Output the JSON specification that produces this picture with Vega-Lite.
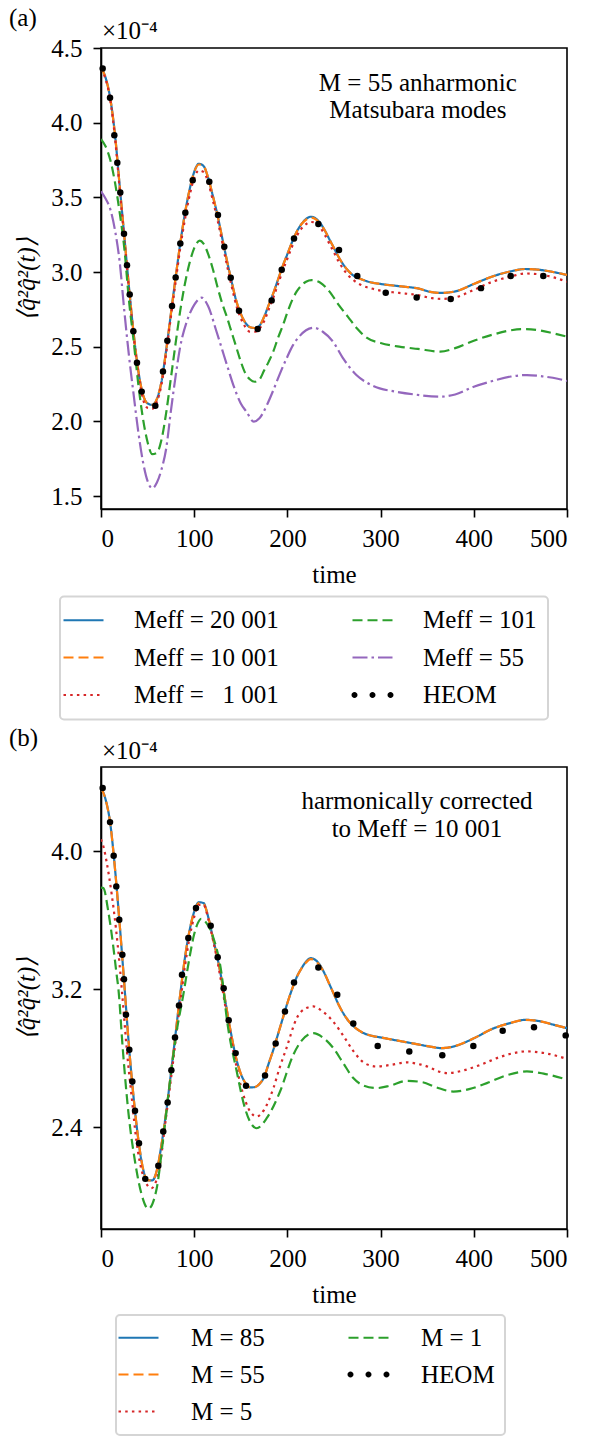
{
  "$schema": "https://vega.github.io/schema/vega-lite/v6.json",
  "padding": {"left": 8, "top": 5, "right": 0, "bottom": 0},
  "config": {
    "font": "Liberation Serif",
    "view": {"stroke": "black", "strokeWidth": 1.6},
    "axis": {"grid": false, "domainColor": "black", "domainWidth": 1.6, "tickColor": "black", "tickWidth": 1.6, "tickSize": 8,
      "labelFont": "Liberation Serif", "labelFontSize": 25, "labelColor": "black", "titleFont": "Liberation Serif", "titleFontSize": 25, "titleFontWeight": "normal", "titleColor": "black"},
    "title": {"font": "Liberation Serif", "fontSize": 25, "fontWeight": "normal", "color": "black"}
  },
  "resolve": {"scale": {"color": "independent", "strokeDash": "independent", "x": "independent", "y": "independent"}, "legend": {"color": "independent", "strokeDash": "independent"}},
  "datasets": {
    "a_curves": [
      {"s":"Meff = 20 001","t":0,"v":4.37},{"s":"Meff = 20 001","t":5,"v":4.30},{"s":"Meff = 20 001","t":10,"v":4.16},{"s":"Meff = 20 001","t":15,"v":3.92},{"s":"Meff = 20 001","t":20,"v":3.58},{"s":"Meff = 20 001","t":25,"v":3.24},{"s":"Meff = 20 001","t":30,"v":2.90},{"s":"Meff = 20 001","t":35,"v":2.59},{"s":"Meff = 20 001","t":40,"v":2.34},{"s":"Meff = 20 001","t":45,"v":2.18},{"s":"Meff = 20 001","t":50,"v":2.12},{"s":"Meff = 20 001","t":55,"v":2.11},{"s":"Meff = 20 001","t":60,"v":2.15},{"s":"Meff = 20 001","t":65,"v":2.27},{"s":"Meff = 20 001","t":70,"v":2.48},{"s":"Meff = 20 001","t":75,"v":2.72},{"s":"Meff = 20 001","t":80,"v":2.96},{"s":"Meff = 20 001","t":85,"v":3.19},{"s":"Meff = 20 001","t":90,"v":3.39},{"s":"Meff = 20 001","t":95,"v":3.55},{"s":"Meff = 20 001","t":100,"v":3.67},{"s":"Meff = 20 001","t":105,"v":3.725},{"s":"Meff = 20 001","t":110,"v":3.71},{"s":"Meff = 20 001","t":115,"v":3.63},{"s":"Meff = 20 001","t":120,"v":3.51},{"s":"Meff = 20 001","t":125,"v":3.38},{"s":"Meff = 20 001","t":130,"v":3.23},{"s":"Meff = 20 001","t":135,"v":3.08},{"s":"Meff = 20 001","t":140,"v":2.94},{"s":"Meff = 20 001","t":145,"v":2.81},{"s":"Meff = 20 001","t":150,"v":2.72},{"s":"Meff = 20 001","t":155,"v":2.66},{"s":"Meff = 20 001","t":160,"v":2.63},{"s":"Meff = 20 001","t":165,"v":2.625},{"s":"Meff = 20 001","t":170,"v":2.64},{"s":"Meff = 20 001","t":175,"v":2.70},{"s":"Meff = 20 001","t":180,"v":2.78},{"s":"Meff = 20 001","t":185,"v":2.86},{"s":"Meff = 20 001","t":190,"v":2.95},{"s":"Meff = 20 001","t":195,"v":3.04},{"s":"Meff = 20 001","t":200,"v":3.12},{"s":"Meff = 20 001","t":205,"v":3.20},{"s":"Meff = 20 001","t":210,"v":3.27},{"s":"Meff = 20 001","t":215,"v":3.32},{"s":"Meff = 20 001","t":220,"v":3.355},{"s":"Meff = 20 001","t":225,"v":3.37},{"s":"Meff = 20 001","t":230,"v":3.36},{"s":"Meff = 20 001","t":235,"v":3.33},{"s":"Meff = 20 001","t":240,"v":3.28},{"s":"Meff = 20 001","t":245,"v":3.22},{"s":"Meff = 20 001","t":250,"v":3.16},{"s":"Meff = 20 001","t":255,"v":3.10},{"s":"Meff = 20 001","t":260,"v":3.05},{"s":"Meff = 20 001","t":265,"v":3.01},{"s":"Meff = 20 001","t":270,"v":2.98},{"s":"Meff = 20 001","t":280,"v":2.95},{"s":"Meff = 20 001","t":290,"v":2.93},{"s":"Meff = 20 001","t":300,"v":2.92},{"s":"Meff = 20 001","t":320,"v":2.905},{"s":"Meff = 20 001","t":340,"v":2.89},{"s":"Meff = 20 001","t":355,"v":2.865},{"s":"Meff = 20 001","t":365,"v":2.86},{"s":"Meff = 20 001","t":380,"v":2.87},{"s":"Meff = 20 001","t":400,"v":2.92},{"s":"Meff = 20 001","t":420,"v":2.97},{"s":"Meff = 20 001","t":440,"v":3.005},{"s":"Meff = 20 001","t":455,"v":3.02},{"s":"Meff = 20 001","t":470,"v":3.015},{"s":"Meff = 20 001","t":485,"v":3.0},{"s":"Meff = 20 001","t":500,"v":2.98},
      {"s":"Meff = 10 001","t":0,"v":4.37},{"s":"Meff = 10 001","t":5,"v":4.30},{"s":"Meff = 10 001","t":10,"v":4.16},{"s":"Meff = 10 001","t":15,"v":3.92},{"s":"Meff = 10 001","t":20,"v":3.58},{"s":"Meff = 10 001","t":25,"v":3.24},{"s":"Meff = 10 001","t":30,"v":2.90},{"s":"Meff = 10 001","t":35,"v":2.59},{"s":"Meff = 10 001","t":40,"v":2.34},{"s":"Meff = 10 001","t":45,"v":2.18},{"s":"Meff = 10 001","t":50,"v":2.12},{"s":"Meff = 10 001","t":55,"v":2.11},{"s":"Meff = 10 001","t":60,"v":2.15},{"s":"Meff = 10 001","t":65,"v":2.27},{"s":"Meff = 10 001","t":70,"v":2.48},{"s":"Meff = 10 001","t":75,"v":2.72},{"s":"Meff = 10 001","t":80,"v":2.96},{"s":"Meff = 10 001","t":85,"v":3.19},{"s":"Meff = 10 001","t":90,"v":3.39},{"s":"Meff = 10 001","t":95,"v":3.55},{"s":"Meff = 10 001","t":100,"v":3.67},{"s":"Meff = 10 001","t":105,"v":3.72},{"s":"Meff = 10 001","t":110,"v":3.71},{"s":"Meff = 10 001","t":115,"v":3.63},{"s":"Meff = 10 001","t":120,"v":3.51},{"s":"Meff = 10 001","t":125,"v":3.38},{"s":"Meff = 10 001","t":130,"v":3.23},{"s":"Meff = 10 001","t":135,"v":3.08},{"s":"Meff = 10 001","t":140,"v":2.94},{"s":"Meff = 10 001","t":145,"v":2.81},{"s":"Meff = 10 001","t":150,"v":2.72},{"s":"Meff = 10 001","t":155,"v":2.66},{"s":"Meff = 10 001","t":160,"v":2.63},{"s":"Meff = 10 001","t":165,"v":2.625},{"s":"Meff = 10 001","t":170,"v":2.64},{"s":"Meff = 10 001","t":175,"v":2.70},{"s":"Meff = 10 001","t":180,"v":2.78},{"s":"Meff = 10 001","t":185,"v":2.86},{"s":"Meff = 10 001","t":190,"v":2.95},{"s":"Meff = 10 001","t":195,"v":3.04},{"s":"Meff = 10 001","t":200,"v":3.12},{"s":"Meff = 10 001","t":205,"v":3.20},{"s":"Meff = 10 001","t":210,"v":3.27},{"s":"Meff = 10 001","t":215,"v":3.32},{"s":"Meff = 10 001","t":220,"v":3.35},{"s":"Meff = 10 001","t":225,"v":3.365},{"s":"Meff = 10 001","t":230,"v":3.355},{"s":"Meff = 10 001","t":235,"v":3.325},{"s":"Meff = 10 001","t":240,"v":3.28},{"s":"Meff = 10 001","t":245,"v":3.22},{"s":"Meff = 10 001","t":250,"v":3.16},{"s":"Meff = 10 001","t":255,"v":3.10},{"s":"Meff = 10 001","t":260,"v":3.05},{"s":"Meff = 10 001","t":265,"v":3.01},{"s":"Meff = 10 001","t":270,"v":2.98},{"s":"Meff = 10 001","t":280,"v":2.95},{"s":"Meff = 10 001","t":290,"v":2.93},{"s":"Meff = 10 001","t":300,"v":2.92},{"s":"Meff = 10 001","t":320,"v":2.905},{"s":"Meff = 10 001","t":340,"v":2.89},{"s":"Meff = 10 001","t":355,"v":2.865},{"s":"Meff = 10 001","t":365,"v":2.86},{"s":"Meff = 10 001","t":380,"v":2.87},{"s":"Meff = 10 001","t":400,"v":2.92},{"s":"Meff = 10 001","t":420,"v":2.97},{"s":"Meff = 10 001","t":440,"v":3.005},{"s":"Meff = 10 001","t":455,"v":3.02},{"s":"Meff = 10 001","t":470,"v":3.015},{"s":"Meff = 10 001","t":485,"v":3.0},{"s":"Meff = 10 001","t":500,"v":2.98},
      {"s":"Meff = \u20071 001","t":0,"v":4.36},{"s":"Meff = \u20071 001","t":5,"v":4.29},{"s":"Meff = \u20071 001","t":10,"v":4.15},{"s":"Meff = \u20071 001","t":15,"v":3.90},{"s":"Meff = \u20071 001","t":20,"v":3.56},{"s":"Meff = \u20071 001","t":25,"v":3.22},{"s":"Meff = \u20071 001","t":30,"v":2.88},{"s":"Meff = \u20071 001","t":35,"v":2.57},{"s":"Meff = \u20071 001","t":40,"v":2.32},{"s":"Meff = \u20071 001","t":45,"v":2.15},{"s":"Meff = \u20071 001","t":50,"v":2.09},{"s":"Meff = \u20071 001","t":55,"v":2.085},{"s":"Meff = \u20071 001","t":60,"v":2.13},{"s":"Meff = \u20071 001","t":65,"v":2.25},{"s":"Meff = \u20071 001","t":70,"v":2.46},{"s":"Meff = \u20071 001","t":75,"v":2.70},{"s":"Meff = \u20071 001","t":80,"v":2.93},{"s":"Meff = \u20071 001","t":85,"v":3.16},{"s":"Meff = \u20071 001","t":90,"v":3.35},{"s":"Meff = \u20071 001","t":95,"v":3.51},{"s":"Meff = \u20071 001","t":100,"v":3.63},{"s":"Meff = \u20071 001","t":105,"v":3.68},{"s":"Meff = \u20071 001","t":110,"v":3.67},{"s":"Meff = \u20071 001","t":115,"v":3.60},{"s":"Meff = \u20071 001","t":120,"v":3.48},{"s":"Meff = \u20071 001","t":125,"v":3.35},{"s":"Meff = \u20071 001","t":130,"v":3.20},{"s":"Meff = \u20071 001","t":135,"v":3.05},{"s":"Meff = \u20071 001","t":140,"v":2.91},{"s":"Meff = \u20071 001","t":145,"v":2.78},{"s":"Meff = \u20071 001","t":150,"v":2.69},{"s":"Meff = \u20071 001","t":155,"v":2.63},{"s":"Meff = \u20071 001","t":160,"v":2.60},{"s":"Meff = \u20071 001","t":165,"v":2.60},{"s":"Meff = \u20071 001","t":170,"v":2.62},{"s":"Meff = \u20071 001","t":175,"v":2.67},{"s":"Meff = \u20071 001","t":180,"v":2.75},{"s":"Meff = \u20071 001","t":185,"v":2.83},{"s":"Meff = \u20071 001","t":190,"v":2.92},{"s":"Meff = \u20071 001","t":195,"v":3.01},{"s":"Meff = \u20071 001","t":200,"v":3.09},{"s":"Meff = \u20071 001","t":205,"v":3.17},{"s":"Meff = \u20071 001","t":210,"v":3.24},{"s":"Meff = \u20071 001","t":215,"v":3.29},{"s":"Meff = \u20071 001","t":220,"v":3.32},{"s":"Meff = \u20071 001","t":225,"v":3.335},{"s":"Meff = \u20071 001","t":230,"v":3.33},{"s":"Meff = \u20071 001","t":235,"v":3.30},{"s":"Meff = \u20071 001","t":240,"v":3.25},{"s":"Meff = \u20071 001","t":245,"v":3.19},{"s":"Meff = \u20071 001","t":250,"v":3.13},{"s":"Meff = \u20071 001","t":255,"v":3.07},{"s":"Meff = \u20071 001","t":260,"v":3.02},{"s":"Meff = \u20071 001","t":265,"v":2.98},{"s":"Meff = \u20071 001","t":270,"v":2.95},{"s":"Meff = \u20071 001","t":280,"v":2.91},{"s":"Meff = \u20071 001","t":290,"v":2.89},{"s":"Meff = \u20071 001","t":300,"v":2.875},{"s":"Meff = \u20071 001","t":320,"v":2.86},{"s":"Meff = \u20071 001","t":340,"v":2.845},{"s":"Meff = \u20071 001","t":355,"v":2.825},{"s":"Meff = \u20071 001","t":365,"v":2.82},{"s":"Meff = \u20071 001","t":380,"v":2.83},{"s":"Meff = \u20071 001","t":400,"v":2.88},{"s":"Meff = \u20071 001","t":420,"v":2.935},{"s":"Meff = \u20071 001","t":440,"v":2.97},{"s":"Meff = \u20071 001","t":455,"v":2.99},{"s":"Meff = \u20071 001","t":470,"v":2.985},{"s":"Meff = \u20071 001","t":485,"v":2.965},{"s":"Meff = \u20071 001","t":500,"v":2.935},
      {"s":"Meff = 101","t":0,"v":3.89},{"s":"Meff = 101","t":5,"v":3.84},{"s":"Meff = 101","t":10,"v":3.75},{"s":"Meff = 101","t":15,"v":3.60},{"s":"Meff = 101","t":20,"v":3.40},{"s":"Meff = 101","t":25,"v":3.16},{"s":"Meff = 101","t":30,"v":2.81},{"s":"Meff = 101","t":35,"v":2.54},{"s":"Meff = 101","t":40,"v":2.25},{"s":"Meff = 101","t":45,"v":2.02},{"s":"Meff = 101","t":50,"v":1.86},{"s":"Meff = 101","t":55,"v":1.78},{"s":"Meff = 101","t":60,"v":1.79},{"s":"Meff = 101","t":65,"v":1.88},{"s":"Meff = 101","t":70,"v":2.06},{"s":"Meff = 101","t":75,"v":2.29},{"s":"Meff = 101","t":80,"v":2.52},{"s":"Meff = 101","t":85,"v":2.74},{"s":"Meff = 101","t":90,"v":2.92},{"s":"Meff = 101","t":95,"v":3.06},{"s":"Meff = 101","t":100,"v":3.16},{"s":"Meff = 101","t":106,"v":3.21},{"s":"Meff = 101","t":110,"v":3.19},{"s":"Meff = 101","t":115,"v":3.12},{"s":"Meff = 101","t":120,"v":3.02},{"s":"Meff = 101","t":125,"v":2.90},{"s":"Meff = 101","t":130,"v":2.79},{"s":"Meff = 101","t":135,"v":2.70},{"s":"Meff = 101","t":140,"v":2.60},{"s":"Meff = 101","t":145,"v":2.50},{"s":"Meff = 101","t":150,"v":2.40},{"s":"Meff = 101","t":155,"v":2.32},{"s":"Meff = 101","t":160,"v":2.28},{"s":"Meff = 101","t":165,"v":2.265},{"s":"Meff = 101","t":170,"v":2.28},{"s":"Meff = 101","t":175,"v":2.34},{"s":"Meff = 101","t":180,"v":2.40},{"s":"Meff = 101","t":185,"v":2.47},{"s":"Meff = 101","t":190,"v":2.56},{"s":"Meff = 101","t":195,"v":2.64},{"s":"Meff = 101","t":200,"v":2.73},{"s":"Meff = 101","t":205,"v":2.81},{"s":"Meff = 101","t":210,"v":2.87},{"s":"Meff = 101","t":215,"v":2.91},{"s":"Meff = 101","t":220,"v":2.935},{"s":"Meff = 101","t":226,"v":2.946},{"s":"Meff = 101","t":235,"v":2.93},{"s":"Meff = 101","t":245,"v":2.87},{"s":"Meff = 101","t":255,"v":2.78},{"s":"Meff = 101","t":265,"v":2.70},{"s":"Meff = 101","t":275,"v":2.62},{"s":"Meff = 101","t":285,"v":2.56},{"s":"Meff = 101","t":300,"v":2.525},{"s":"Meff = 101","t":320,"v":2.50},{"s":"Meff = 101","t":340,"v":2.485},{"s":"Meff = 101","t":364,"v":2.467},{"s":"Meff = 101","t":380,"v":2.49},{"s":"Meff = 101","t":400,"v":2.54},{"s":"Meff = 101","t":420,"v":2.58},{"s":"Meff = 101","t":440,"v":2.61},{"s":"Meff = 101","t":453,"v":2.618},{"s":"Meff = 101","t":470,"v":2.61},{"s":"Meff = 101","t":485,"v":2.59},{"s":"Meff = 101","t":500,"v":2.567},
      {"s":"Meff = 55","t":0,"v":3.54},{"s":"Meff = 55","t":5,"v":3.49},{"s":"Meff = 55","t":10,"v":3.42},{"s":"Meff = 55","t":15,"v":3.28},{"s":"Meff = 55","t":20,"v":3.07},{"s":"Meff = 55","t":25,"v":2.74},{"s":"Meff = 55","t":30,"v":2.44},{"s":"Meff = 55","t":35,"v":2.18},{"s":"Meff = 55","t":40,"v":1.93},{"s":"Meff = 55","t":45,"v":1.73},{"s":"Meff = 55","t":50,"v":1.60},{"s":"Meff = 55","t":55,"v":1.552},{"s":"Meff = 55","t":60,"v":1.59},{"s":"Meff = 55","t":65,"v":1.68},{"s":"Meff = 55","t":70,"v":1.82},{"s":"Meff = 55","t":75,"v":2.07},{"s":"Meff = 55","t":80,"v":2.30},{"s":"Meff = 55","t":85,"v":2.50},{"s":"Meff = 55","t":92,"v":2.667},{"s":"Meff = 55","t":100,"v":2.78},{"s":"Meff = 55","t":108,"v":2.828},{"s":"Meff = 55","t":115,"v":2.77},{"s":"Meff = 55","t":124,"v":2.60},{"s":"Meff = 55","t":130,"v":2.48},{"s":"Meff = 55","t":135,"v":2.38},{"s":"Meff = 55","t":142,"v":2.243},{"s":"Meff = 55","t":150,"v":2.12},{"s":"Meff = 55","t":156,"v":2.065},{"s":"Meff = 55","t":164,"v":1.998},{"s":"Meff = 55","t":170,"v":2.02},{"s":"Meff = 55","t":178,"v":2.109},{"s":"Meff = 55","t":185,"v":2.21},{"s":"Meff = 55","t":192,"v":2.32},{"s":"Meff = 55","t":199,"v":2.42},{"s":"Meff = 55","t":206,"v":2.51},{"s":"Meff = 55","t":213,"v":2.57},{"s":"Meff = 55","t":220,"v":2.61},{"s":"Meff = 55","t":228,"v":2.627},{"s":"Meff = 55","t":238,"v":2.60},{"s":"Meff = 55","t":249,"v":2.533},{"s":"Meff = 55","t":260,"v":2.42},{"s":"Meff = 55","t":274,"v":2.31},{"s":"Meff = 55","t":285,"v":2.26},{"s":"Meff = 55","t":299,"v":2.221},{"s":"Meff = 55","t":315,"v":2.20},{"s":"Meff = 55","t":335,"v":2.181},{"s":"Meff = 55","t":364,"v":2.165},{"s":"Meff = 55","t":380,"v":2.18},{"s":"Meff = 55","t":400,"v":2.232},{"s":"Meff = 55","t":420,"v":2.27},{"s":"Meff = 55","t":440,"v":2.30},{"s":"Meff = 55","t":457,"v":2.31},{"s":"Meff = 55","t":475,"v":2.30},{"s":"Meff = 55","t":490,"v":2.285},{"s":"Meff = 55","t":500,"v":2.27}
    ],
    "a_heom": [
      {"t":1.8,"v":4.363},{"t":9.7,"v":4.167},{"t":14.3,"v":3.916},{"t":17.5,"v":3.732},{"t":20.7,"v":3.533},{"t":24.7,"v":3.256},{"t":27.9,"v":3.046},{"t":30.8,"v":2.850},{"t":34.7,"v":2.604},{"t":38.6,"v":2.393},{"t":43.7,"v":2.199},{"t":58.3,"v":2.105},{"t":66.5,"v":2.333},{"t":71.2,"v":2.540},{"t":76.2,"v":2.772},{"t":80.1,"v":2.964},{"t":85.1,"v":3.191},{"t":90.5,"v":3.397},{"t":98.4,"v":3.615},{"t":116.2,"v":3.604},{"t":125.5,"v":3.381},{"t":132.3,"v":3.169},{"t":139.2,"v":2.962},{"t":148.1,"v":2.741},{"t":168.1,"v":2.618},{"t":183.1,"v":2.810},{"t":193.9,"v":3.015},{"t":207.1,"v":3.225},{"t":233.2,"v":3.321},{"t":255.4,"v":3.147},{"t":275,"v":2.973},{"t":305.5,"v":2.861},{"t":338.7,"v":2.830},{"t":375.2,"v":2.819},{"t":407.7,"v":2.892},{"t":439.6,"v":2.973},{"t":474.6,"v":2.973}
    ],
    "b_curves": [
      {"s":"M = 85","t":0,"v":4.37},{"s":"M = 85","t":5,"v":4.30},{"s":"M = 85","t":10,"v":4.16},{"s":"M = 85","t":15,"v":3.90},{"s":"M = 85","t":20,"v":3.58},{"s":"M = 85","t":25,"v":3.23},{"s":"M = 85","t":30,"v":2.87},{"s":"M = 85","t":35,"v":2.57},{"s":"M = 85","t":40,"v":2.33},{"s":"M = 85","t":45,"v":2.16},{"s":"M = 85","t":50,"v":2.09},{"s":"M = 85","t":55,"v":2.09},{"s":"M = 85","t":60,"v":2.15},{"s":"M = 85","t":65,"v":2.30},{"s":"M = 85","t":70,"v":2.49},{"s":"M = 85","t":75,"v":2.71},{"s":"M = 85","t":80,"v":2.94},{"s":"M = 85","t":85,"v":3.17},{"s":"M = 85","t":90,"v":3.38},{"s":"M = 85","t":95,"v":3.54},{"s":"M = 85","t":100,"v":3.65},{"s":"M = 85","t":105,"v":3.705},{"s":"M = 85","t":110,"v":3.70},{"s":"M = 85","t":115,"v":3.62},{"s":"M = 85","t":120,"v":3.50},{"s":"M = 85","t":125,"v":3.38},{"s":"M = 85","t":130,"v":3.24},{"s":"M = 85","t":135,"v":3.08},{"s":"M = 85","t":140,"v":2.93},{"s":"M = 85","t":145,"v":2.80},{"s":"M = 85","t":150,"v":2.71},{"s":"M = 85","t":155,"v":2.655},{"s":"M = 85","t":160,"v":2.63},{"s":"M = 85","t":165,"v":2.632},{"s":"M = 85","t":170,"v":2.65},{"s":"M = 85","t":175,"v":2.69},{"s":"M = 85","t":180,"v":2.77},{"s":"M = 85","t":185,"v":2.85},{"s":"M = 85","t":190,"v":2.94},{"s":"M = 85","t":195,"v":3.03},{"s":"M = 85","t":200,"v":3.12},{"s":"M = 85","t":205,"v":3.20},{"s":"M = 85","t":210,"v":3.27},{"s":"M = 85","t":215,"v":3.32},{"s":"M = 85","t":220,"v":3.36},{"s":"M = 85","t":225,"v":3.38},{"s":"M = 85","t":230,"v":3.37},{"s":"M = 85","t":235,"v":3.34},{"s":"M = 85","t":240,"v":3.29},{"s":"M = 85","t":245,"v":3.23},{"s":"M = 85","t":250,"v":3.17},{"s":"M = 85","t":255,"v":3.11},{"s":"M = 85","t":260,"v":3.06},{"s":"M = 85","t":265,"v":3.02},{"s":"M = 85","t":270,"v":2.99},{"s":"M = 85","t":280,"v":2.95},{"s":"M = 85","t":290,"v":2.93},{"s":"M = 85","t":300,"v":2.92},{"s":"M = 85","t":320,"v":2.90},{"s":"M = 85","t":340,"v":2.88},{"s":"M = 85","t":355,"v":2.865},{"s":"M = 85","t":365,"v":2.858},{"s":"M = 85","t":380,"v":2.87},{"s":"M = 85","t":400,"v":2.915},{"s":"M = 85","t":420,"v":2.97},{"s":"M = 85","t":440,"v":3.005},{"s":"M = 85","t":455,"v":3.022},{"s":"M = 85","t":470,"v":3.015},{"s":"M = 85","t":485,"v":2.995},{"s":"M = 85","t":500,"v":2.974},
      {"s":"M = 55","t":0,"v":4.37},{"s":"M = 55","t":5,"v":4.30},{"s":"M = 55","t":10,"v":4.16},{"s":"M = 55","t":15,"v":3.90},{"s":"M = 55","t":20,"v":3.58},{"s":"M = 55","t":25,"v":3.23},{"s":"M = 55","t":30,"v":2.87},{"s":"M = 55","t":35,"v":2.57},{"s":"M = 55","t":40,"v":2.33},{"s":"M = 55","t":45,"v":2.16},{"s":"M = 55","t":50,"v":2.09},{"s":"M = 55","t":55,"v":2.09},{"s":"M = 55","t":60,"v":2.15},{"s":"M = 55","t":65,"v":2.30},{"s":"M = 55","t":70,"v":2.49},{"s":"M = 55","t":75,"v":2.71},{"s":"M = 55","t":80,"v":2.94},{"s":"M = 55","t":85,"v":3.17},{"s":"M = 55","t":90,"v":3.38},{"s":"M = 55","t":95,"v":3.54},{"s":"M = 55","t":100,"v":3.65},{"s":"M = 55","t":105,"v":3.70},{"s":"M = 55","t":110,"v":3.695},{"s":"M = 55","t":115,"v":3.62},{"s":"M = 55","t":120,"v":3.50},{"s":"M = 55","t":125,"v":3.38},{"s":"M = 55","t":130,"v":3.24},{"s":"M = 55","t":135,"v":3.08},{"s":"M = 55","t":140,"v":2.93},{"s":"M = 55","t":145,"v":2.80},{"s":"M = 55","t":150,"v":2.71},{"s":"M = 55","t":155,"v":2.655},{"s":"M = 55","t":160,"v":2.63},{"s":"M = 55","t":165,"v":2.632},{"s":"M = 55","t":170,"v":2.65},{"s":"M = 55","t":175,"v":2.69},{"s":"M = 55","t":180,"v":2.77},{"s":"M = 55","t":185,"v":2.85},{"s":"M = 55","t":190,"v":2.94},{"s":"M = 55","t":195,"v":3.03},{"s":"M = 55","t":200,"v":3.12},{"s":"M = 55","t":205,"v":3.20},{"s":"M = 55","t":210,"v":3.27},{"s":"M = 55","t":215,"v":3.32},{"s":"M = 55","t":220,"v":3.355},{"s":"M = 55","t":225,"v":3.375},{"s":"M = 55","t":230,"v":3.365},{"s":"M = 55","t":235,"v":3.335},{"s":"M = 55","t":240,"v":3.29},{"s":"M = 55","t":245,"v":3.23},{"s":"M = 55","t":250,"v":3.17},{"s":"M = 55","t":255,"v":3.11},{"s":"M = 55","t":260,"v":3.06},{"s":"M = 55","t":265,"v":3.02},{"s":"M = 55","t":270,"v":2.99},{"s":"M = 55","t":280,"v":2.95},{"s":"M = 55","t":290,"v":2.93},{"s":"M = 55","t":300,"v":2.92},{"s":"M = 55","t":320,"v":2.90},{"s":"M = 55","t":340,"v":2.88},{"s":"M = 55","t":355,"v":2.865},{"s":"M = 55","t":365,"v":2.858},{"s":"M = 55","t":380,"v":2.87},{"s":"M = 55","t":400,"v":2.915},{"s":"M = 55","t":420,"v":2.97},{"s":"M = 55","t":440,"v":3.005},{"s":"M = 55","t":455,"v":3.022},{"s":"M = 55","t":470,"v":3.015},{"s":"M = 55","t":485,"v":2.995},{"s":"M = 55","t":500,"v":2.974},
      {"s":"M = 5","t":0,"v":4.07},{"s":"M = 5","t":3,"v":4.02},{"s":"M = 5","t":6,"v":3.94},{"s":"M = 5","t":11.5,"v":3.75},{"s":"M = 5","t":16,"v":3.555},{"s":"M = 5","t":20,"v":3.34},{"s":"M = 5","t":24,"v":3.09},{"s":"M = 5","t":27.5,"v":2.86},{"s":"M = 5","t":33,"v":2.57},{"s":"M = 5","t":38,"v":2.32},{"s":"M = 5","t":45,"v":2.12},{"s":"M = 5","t":50,"v":2.06},{"s":"M = 5","t":54,"v":2.045},{"s":"M = 5","t":58,"v":2.07},{"s":"M = 5","t":63,"v":2.17},{"s":"M = 5","t":68,"v":2.38},{"s":"M = 5","t":72,"v":2.55},{"s":"M = 5","t":76,"v":2.72},{"s":"M = 5","t":80,"v":2.90},{"s":"M = 5","t":85,"v":3.12},{"s":"M = 5","t":90,"v":3.33},{"s":"M = 5","t":95,"v":3.50},{"s":"M = 5","t":100,"v":3.62},{"s":"M = 5","t":105,"v":3.69},{"s":"M = 5","t":110,"v":3.69},{"s":"M = 5","t":115,"v":3.61},{"s":"M = 5","t":120,"v":3.49},{"s":"M = 5","t":125,"v":3.36},{"s":"M = 5","t":130,"v":3.21},{"s":"M = 5","t":135,"v":3.05},{"s":"M = 5","t":140,"v":2.90},{"s":"M = 5","t":145,"v":2.76},{"s":"M = 5","t":150,"v":2.64},{"s":"M = 5","t":155,"v":2.55},{"s":"M = 5","t":160,"v":2.49},{"s":"M = 5","t":167,"v":2.461},{"s":"M = 5","t":175,"v":2.50},{"s":"M = 5","t":185,"v":2.626},{"s":"M = 5","t":192,"v":2.75},{"s":"M = 5","t":199,"v":2.858},{"s":"M = 5","t":210,"v":3.032},{"s":"M = 5","t":220,"v":3.09},{"s":"M = 5","t":228,"v":3.10},{"s":"M = 5","t":238,"v":3.07},{"s":"M = 5","t":249,"v":3.013},{"s":"M = 5","t":260,"v":2.93},{"s":"M = 5","t":271,"v":2.839},{"s":"M = 5","t":283,"v":2.77},{"s":"M = 5","t":296,"v":2.751},{"s":"M = 5","t":310,"v":2.76},{"s":"M = 5","t":328,"v":2.775},{"s":"M = 5","t":345,"v":2.76},{"s":"M = 5","t":371,"v":2.713},{"s":"M = 5","t":390,"v":2.73},{"s":"M = 5","t":407,"v":2.761},{"s":"M = 5","t":430,"v":2.81},{"s":"M = 5","t":457,"v":2.839},{"s":"M = 5","t":480,"v":2.825},{"s":"M = 5","t":500,"v":2.795},
      {"s":"M = 1","t":0,"v":3.79},{"s":"M = 1","t":2.5,"v":3.787},{"s":"M = 1","t":7.8,"v":3.652},{"s":"M = 1","t":12.5,"v":3.477},{"s":"M = 1","t":16.8,"v":3.284},{"s":"M = 1","t":18.6,"v":3.206},{"s":"M = 1","t":23.3,"v":2.858},{"s":"M = 1","t":29.3,"v":2.49},{"s":"M = 1","t":36.5,"v":2.2},{"s":"M = 1","t":43.7,"v":2.006},{"s":"M = 1","t":50.8,"v":1.925},{"s":"M = 1","t":59.8,"v":2.045},{"s":"M = 1","t":66.8,"v":2.335},{"s":"M = 1","t":74,"v":2.664},{"s":"M = 1","t":81.2,"v":2.955},{"s":"M = 1","t":88.3,"v":3.168},{"s":"M = 1","t":95.5,"v":3.40},{"s":"M = 1","t":100,"v":3.52},{"s":"M = 1","t":104,"v":3.585},{"s":"M = 1","t":107.6,"v":3.609},{"s":"M = 1","t":113,"v":3.585},{"s":"M = 1","t":120.5,"v":3.50},{"s":"M = 1","t":129.5,"v":3.284},{"s":"M = 1","t":134.9,"v":3.032},{"s":"M = 1","t":145.6,"v":2.723},{"s":"M = 1","t":154.5,"v":2.509},{"s":"M = 1","t":160,"v":2.43},{"s":"M = 1","t":167,"v":2.393},{"s":"M = 1","t":177.8,"v":2.451},{"s":"M = 1","t":192.1,"v":2.606},{"s":"M = 1","t":206.3,"v":2.819},{"s":"M = 1","t":215,"v":2.90},{"s":"M = 1","t":227.8,"v":2.945},{"s":"M = 1","t":238,"v":2.92},{"s":"M = 1","t":249.3,"v":2.858},{"s":"M = 1","t":260,"v":2.77},{"s":"M = 1","t":270.7,"v":2.684},{"s":"M = 1","t":282,"v":2.64},{"s":"M = 1","t":295.8,"v":2.626},{"s":"M = 1","t":310,"v":2.64},{"s":"M = 1","t":328,"v":2.668},{"s":"M = 1","t":345,"v":2.66},{"s":"M = 1","t":360,"v":2.63},{"s":"M = 1","t":378,"v":2.606},{"s":"M = 1","t":395,"v":2.62},{"s":"M = 1","t":414,"v":2.655},{"s":"M = 1","t":435,"v":2.70},{"s":"M = 1","t":457,"v":2.723},{"s":"M = 1","t":475,"v":2.71},{"s":"M = 1","t":500,"v":2.675}
    ],
    "b_heom": [
      {"t":1.8,"v":4.368},{"t":9.7,"v":4.170},{"t":13.6,"v":3.975},{"t":16.4,"v":3.797},{"t":19.6,"v":3.603},{"t":22.9,"v":3.400},{"t":24.7,"v":3.258},{"t":26.8,"v":3.052},{"t":30.4,"v":2.848},{"t":33.6,"v":2.664},{"t":36.5,"v":2.494},{"t":40.8,"v":2.306},{"t":47.5,"v":2.099},{"t":61.5,"v":2.175},{"t":66.8,"v":2.374},{"t":71.5,"v":2.542},{"t":75.5,"v":2.730},{"t":79.4,"v":2.920},{"t":83.7,"v":3.106},{"t":86.9,"v":3.284},{"t":93.7,"v":3.497},{"t":101.9,"v":3.671},{"t":117.7,"v":3.568},{"t":125.2,"v":3.386},{"t":131.6,"v":3.206},{"t":137,"v":3.020},{"t":144.5,"v":2.829},{"t":155.6,"v":2.639},{"t":176,"v":2.699},{"t":187.4,"v":2.885},{"t":197.4,"v":3.071},{"t":207.1,"v":3.239},{"t":233.2,"v":3.326},{"t":253.5,"v":3.168},{"t":270.7,"v":3.001},{"t":296.9,"v":2.871},{"t":330.8,"v":2.839},{"t":366.2,"v":2.816},{"t":399.5,"v":2.871},{"t":431,"v":2.959},{"t":464.6,"v":2.979},{"t":498.6,"v":2.932}
    ]
  },
  "vconcat": [
    {
      "width": 466,
      "height": 461,
      "title": {"text": "(a)", "anchor": "start", "frame": "group", "dx": -92, "offset": -12},
      "layer": [
        {
          "data": {"name": "a_curves"},
          "mark": {"type": "line", "strokeWidth": 2.2, "interpolate": "monotone", "clip": true},
          "encoding": {
            "x": {"field": "t", "type": "quantitative", "title": "time", "scale": {"domain": [0, 500], "nice": false},
              "axis": {"values": [0, 100, 200, 300, 400, 500], "labelPadding": 9, "titlePadding": 11}},
            "y": {"field": "v", "type": "quantitative", "title": "\u27e8q\u0302\u00b2q\u0302\u00b2(t)\u27e9", "scale": {"domain": [1.413, 4.5], "nice": false, "zero": false},
              "axis": {"values": [1.5, 2, 2.5, 3, 3.5, 4, 4.5], "format": ".1f", "labelPadding": 11, "titlePadding": 11, "titleFontStyle": "italic"}},
            "color": {"field": "s", "type": "nominal",
              "scale": {"domain": ["Meff = 20 001", "Meff = 10 001", "Meff = \u20071 001", "Meff = 101", "Meff = 55", "HEOM"],
                        "range": ["#1f77b4", "#ff7f0e", "#d62728", "#2ca02c", "#9467bd", "black"]},
              "legend": {"title": null, "orient": "none", "legendX": -41, "legendY": 548.5, "columns": 2,
                "symbolType": "stroke", "symbolSize": 1600, "symbolStrokeWidth": 2.2, "labelFont": "Liberation Serif", "labelFontSize": 25, "labelColor": "black", "labelLimit": 400,
                "rowPadding": 11.5, "columnPadding": 69, "padding": 11, "symbolOffset": 0, "labelOffset": 38,
                "strokeColor": "#d5d5d5", "fillColor": "white", "cornerRadius": 4,
                "encode": {"symbols": {"update": {
                  "shape": {"signal": "datum.value === 'HEOM' ? 'M-1.05,0a0.15,0.15 0 1,0 0.3,0a0.15,0.15 0 1,0 -0.3,0ZM-0.15,0a0.15,0.15 0 1,0 0.3,0a0.15,0.15 0 1,0 -0.3,0ZM0.75,0a0.15,0.15 0 1,0 0.3,0a0.15,0.15 0 1,0 -0.3,0Z' : 'stroke'"},
                  "fill": {"signal": "datum.value === 'HEOM' ? 'black' : 'transparent'"},
                  "strokeWidth": {"signal": "datum.value === 'HEOM' ? 0 : 2.2"}}},
                           "legend": {"update": {"strokeWidth": {"value": 2}}}}}},
            "strokeDash": {"field": "s", "type": "nominal",
              "scale": {"domain": ["Meff = 20 001", "Meff = 10 001", "Meff = \u20071 001", "Meff = 101", "Meff = 55", "HEOM"],
                        "range": [[1, 0], [10, 5], [2.5, 4.2], [10, 5], [15, 4, 2.5, 4], [1, 0]]}}
          }
        },
        {
          "data": {"name": "a_heom"},
          "mark": {"type": "circle", "size": 42, "color": "black", "opacity": 1},
          "encoding": {
            "x": {"field": "t", "type": "quantitative", "title": "time"},
            "y": {"field": "v", "type": "quantitative", "title": "\u27e8q\u0302\u00b2q\u0302\u00b2(t)\u27e9"}
          }
        },
        {
          "data": {"values": [{"txt": "\u00d710\u207b\u2074"}]},
          "mark": {"type": "text", "align": "left", "baseline": "alphabetic", "dx": 1, "dy": -9, "fontSize": 25, "font": "Liberation Serif", "color": "black", "clip": false},
          "encoding": {"x": {"datum": 0}, "y": {"datum": 4.5}, "text": {"field": "txt"}}
        },
        {
          "data": {"values": [{"txt": "M = 55 anharmonic\nMatsubara modes"}]},
          "mark": {"type": "text", "align": "center", "baseline": "top", "lineBreak": "\n", "lineHeight": 27, "fontSize": 25, "font": "Liberation Serif", "color": "black"},
          "encoding": {"x": {"datum": 340}, "y": {"datum": 4.349}, "text": {"field": "txt"}}
        }
      ]
    },
    {
      "width": 466,
      "height": 462,
      "title": {"text": "(b)", "anchor": "start", "frame": "group", "dx": -92, "offset": -12},
      "layer": [
        {
          "data": {"name": "b_curves"},
          "mark": {"type": "line", "strokeWidth": 2.2, "interpolate": "monotone", "clip": true},
          "encoding": {
            "x": {"field": "t", "type": "quantitative", "title": "time", "scale": {"domain": [0, 500], "nice": false},
              "axis": {"values": [0, 100, 200, 300, 400, 500], "labelPadding": 9, "titlePadding": 11}},
            "y": {"field": "v", "type": "quantitative", "title": "\u27e8q\u0302\u00b2q\u0302\u00b2(t)\u27e9", "scale": {"domain": [1.808, 4.49], "nice": false, "zero": false},
              "axis": {"values": [2.4, 3.2, 4.0], "format": ".1f", "labelPadding": 11, "titlePadding": 11, "titleFontStyle": "italic"}},
            "color": {"field": "s", "type": "nominal",
              "scale": {"domain": ["M = 85", "M = 55", "M = 5", "M = 1", "HEOM"],
                        "range": ["#1f77b4", "#ff7f0e", "#d62728", "#2ca02c", "black"]},
              "legend": {"title": null, "orient": "none", "legendX": 15, "legendY": 548, "columns": 2,
                "symbolType": "stroke", "symbolSize": 1600, "symbolStrokeWidth": 2.2, "labelFont": "Liberation Serif", "labelFontSize": 25, "labelColor": "black", "labelLimit": 400,
                "rowPadding": 11, "columnPadding": 79, "padding": 10, "symbolOffset": 0, "labelOffset": 40,
                "strokeColor": "#d5d5d5", "fillColor": "white", "cornerRadius": 4,
                "encode": {"symbols": {"update": {
                  "shape": {"signal": "datum.value === 'HEOM' ? 'M-1.05,0a0.15,0.15 0 1,0 0.3,0a0.15,0.15 0 1,0 -0.3,0ZM-0.15,0a0.15,0.15 0 1,0 0.3,0a0.15,0.15 0 1,0 -0.3,0ZM0.75,0a0.15,0.15 0 1,0 0.3,0a0.15,0.15 0 1,0 -0.3,0Z' : 'stroke'"},
                  "fill": {"signal": "datum.value === 'HEOM' ? 'black' : 'transparent'"},
                  "strokeWidth": {"signal": "datum.value === 'HEOM' ? 0 : 2.2"}}},
                           "legend": {"update": {"strokeWidth": {"value": 2}}}}}},
            "strokeDash": {"field": "s", "type": "nominal",
              "scale": {"domain": ["M = 85", "M = 55", "M = 5", "M = 1", "HEOM"],
                        "range": [[1, 0], [10, 5], [2.5, 4.2], [10, 5], [1, 0]]}}
          }
        },
        {
          "data": {"name": "b_heom"},
          "mark": {"type": "circle", "size": 42, "color": "black", "opacity": 1},
          "encoding": {
            "x": {"field": "t", "type": "quantitative", "title": "time"},
            "y": {"field": "v", "type": "quantitative", "title": "\u27e8q\u0302\u00b2q\u0302\u00b2(t)\u27e9"}
          }
        },
        {
          "data": {"values": [{"txt": "\u00d710\u207b\u2074"}]},
          "mark": {"type": "text", "align": "left", "baseline": "alphabetic", "dx": 1, "dy": -8, "fontSize": 25, "font": "Liberation Serif", "color": "black", "clip": false},
          "encoding": {"x": {"datum": 0}, "y": {"datum": 4.49}, "text": {"field": "txt"}}
        },
        {
          "data": {"values": [{"txt": "harmonically corrected\nto Meff = 10 001"}]},
          "mark": {"type": "text", "align": "center", "baseline": "top", "lineBreak": "\n", "lineHeight": 28, "fontSize": 25, "font": "Liberation Serif", "color": "black"},
          "encoding": {"x": {"datum": 339}, "y": {"datum": 4.362}, "text": {"field": "txt"}}
        }
      ]
    }
  ],
  "spacing": 3
}
